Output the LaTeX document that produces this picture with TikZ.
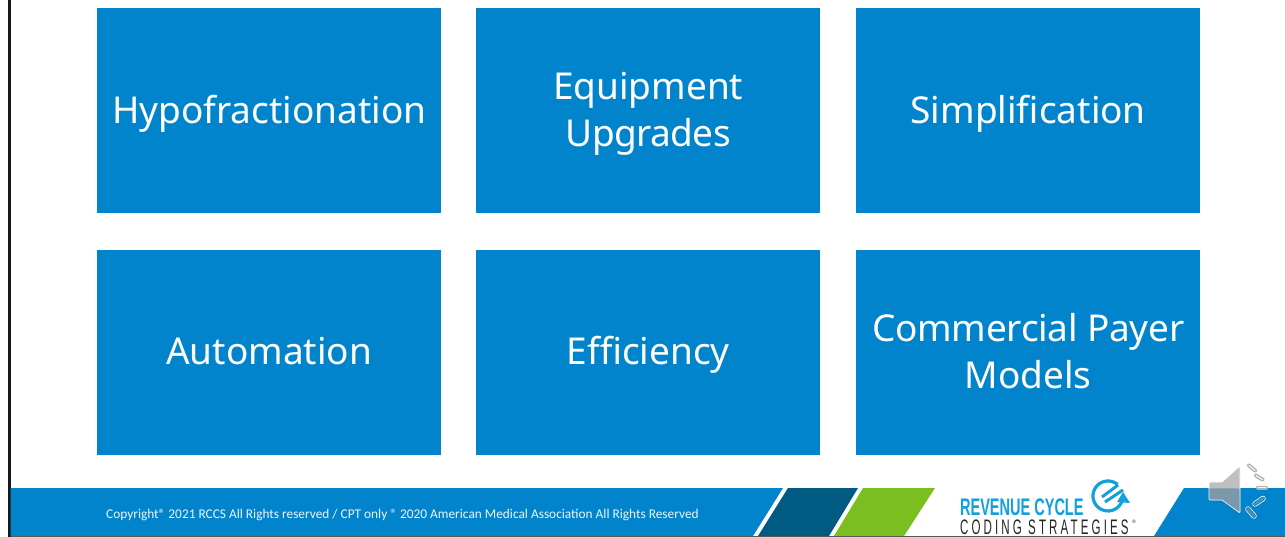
\documentclass[tikz,border=0pt]{standalone}
\usepackage{fontspec}
\setmainfont{Noto Sans}
\newfontfamily\logofont{Liberation Sans}
\newfontfamily\footfont{Carlito}
\definecolor{bandblue}{HTML}{0284CC}
\definecolor{dkblue}{HTML}{005A82}
\definecolor{lgreen}{HTML}{7ABF1F}
\definecolor{logoblue}{HTML}{12A0DE}
\newcommand{\tst}{\rule[-9.5pt]{0pt}{44pt}}
\tikzset{
  tile/.style={fill=bandblue,draw=none,minimum width=344pt,minimum height=205pt,inner sep=0pt,anchor=north west,
    text=white,font=\fontsize{37}{47}\selectfont,align=center,text width=340pt},
  barup/.style={draw=gray!60,line width=4pt,line cap=round,
    postaction={draw=white!90!gray,line width=1.2pt}},
  bardown/.style={draw=white,line width=5.4pt,line cap=round,
    postaction={draw=bandblue!55!gray,line width=4pt,line cap=round},
    postaction={draw=bandblue!80!white,line width=1.4pt,line cap=round}},
}
\begin{document}
\begin{tikzpicture}[x=1pt,y=-1pt]
\useasboundingbox (0,0) rectangle (1285,537);
\fill[white] (0,0) rectangle (1285,537);
% frame
\fill[black!90] (8,0) rectangle (10.5,537);
% tiles
\node[tile] (t1) at (97,8) {\tst Hypofractionation};
\node[tile] (t2) at (476,8) {\tst Equipment\\\tst {\addfontfeature{LetterSpace=-1.5}Upgrades}};
\node[tile] (t3) at (856,8) {\tst Simplification};
\node[tile] (t4) at (97,250) {\tst\raisebox{1pt}{Automation}};
\node[tile] (t5) at (476,250) {\tst\raisebox{1pt}{Efficiency}};
\node[tile] (t6) at (856,250) {\tst{\addfontfeature{LetterSpace=-0.7}Commercial\kern-3pt\ Payer}\\\tst Models};
% band
\fill[bandblue] (10.5,488) -- (783,488) -- (753,536) -- (10.5,536) -- cycle;
\fill[dkblue] (788,488) -- (858,488) -- (829,536) -- (758,536) -- cycle;
\fill[lgreen] (863,488) -- (935,488) -- (904,536) -- (834,536) -- cycle;
\fill[bandblue] (1184,488) -- (1285,488) -- (1285,536) -- (1154,536) -- cycle;
\fill[black!65] (10.5,536) rectangle (1285,537);
\node[text=white,font=\footfont\fontsize{13.35}{14}\selectfont,anchor=west,inner sep=0pt,text opacity=.92] (copy) at (106,515.5) {Copyright® 2021 RCCS All Rights reserved / CPT only ® 2020 American Medical Association All Rights Reserved};
% logo
\node[anchor=west,inner sep=0pt,text=logoblue,font=\logofont\bfseries\fontsize{24}{24}\selectfont,xscale=.605] (lg1) at (960,507) {REVENUE CYCLE};
\node[anchor=west,inner sep=0pt,text=black!85,font=\logofont\fontsize{21}{21}\selectfont,xscale=.55] (lg2) at (960,527.5) {\addfontfeature{LetterSpace=27}CODING STRATEGIES};
\node[anchor=center,inner sep=0pt,text=black!85,font=\logofont\fontsize{5}{5}\selectfont] (lg3) at (1134,522) {®};
\draw[logoblue,line width=3.2pt] (1117.6,484.5) arc[start angle=-50,end angle=-340,radius=15];
\draw[logoblue,line width=3pt] (1102,497) -- (1118,485);
\draw[logoblue,line width=3pt] (1105,502) -- (1123,490);
\fill[logoblue] (1123,492) -- (1130,503) -- (1117,502) -- cycle;
% speaker
\fill[gray!50,draw=white,line width=.7pt,rounded corners=1pt] (1240,466) -- (1240,513) -- (1222,500) -- (1209,500) -- (1209,482) -- (1222,482) -- cycle;
\fill[bandblue!40!gray,opacity=.6,rounded corners=1pt] (1209.4,488.4) -- (1239.6,488.4) -- (1239.6,512.2) -- (1222,499.6) -- (1209.4,499.6) -- cycle;
\path[barup] (1249,465.5) -- (1255,470.5);
\path[barup] (1256,475.5) -- (1262.5,479.5);
\path[barup] (1258,487.5) -- (1266,487.5);
\path[bardown] (1255,504) -- (1263,498.5);
\path[bardown] (1248,509) -- (1254,516);
\end{tikzpicture}
\end{document}
